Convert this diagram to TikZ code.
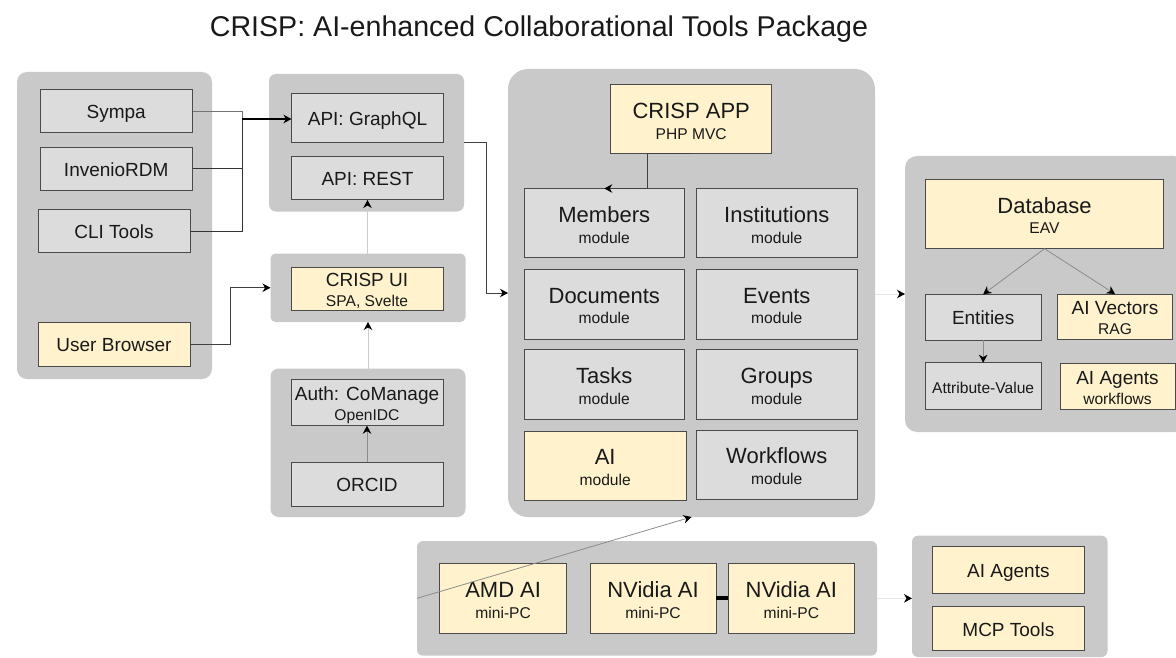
\documentclass[tikz,border=0pt]{standalone}
\usepackage{fontspec}
\setmainfont{Liberation Sans}
\usetikzlibrary{arrows.meta,calc}
\definecolor{panelgrey}{HTML}{C9C9C9}
\definecolor{boxgrey}{HTML}{DCDCDC}
\definecolor{boxyellow}{HTML}{FFF2CC}
\definecolor{edge}{HTML}{4A4A4A}
\newcommand{\bx}[7][]{%
  \pgfmathsetmacro{\bw}{#5-#3}\pgfmathsetmacro{\bh}{#6-#4}%
  \pgfmathsetmacro{\cxx}{(#3+#5)/2}\pgfmathsetmacro{\cyy}{(#4+#6)/2}%
  \node[#1,minimum width=\bw pt,minimum height=\bh pt] (#2) at (\cxx,\cyy) {#7};}
% a line of text with its baseline at a fixed offset from the node's centre
\newcommand{\tline}[3]{\makebox[0pt][c]{\raisebox{#1pt}[0pt][0pt]{\fontsize{#2}{24}\selectfont #3}}}
\newcommand{\labbig}[2]{\tline{0.7}{22}{#1}\tline{-19.9}{15.6}{#2}}
\newcommand{\labmid}[2]{\tline{2.2}{19}{#1}\tline{-17.6}{15.6}{#2}}
\newcommand{\one}[2]{\tline{-7.7}{#1}{#2}}
\tikzset{
  panel/.style={fill=panelgrey,draw=none,inner sep=0pt,outer sep=0pt},
  gbox/.style={fill=boxgrey,draw=edge,line width=1pt,inner sep=0pt,outer sep=0pt,text=black!90},
  ybox/.style={fill=boxyellow,draw=edge,line width=1pt,inner sep=0pt,outer sep=0pt,text=black!90},
  tip/.style={-{Stealth[black,inset=2.5pt,length=8pt,width=8.5pt]}},
  linkdark/.style={tip,draw=black!75,line width=1pt},
  linkmid/.style={tip,draw=black!45,line width=0.8pt},
  linklight/.style={tip,draw=black!20,line width=1pt},
  linkpale/.style={tip,draw=black!10,line width=1pt},
}
\begin{document}
\begin{tikzpicture}[x=1pt,y=-1pt]
\useasboundingbox (0,0) rectangle (1176,658);
\node[inner sep=0pt,text=black!90] (title) at (539,29.5) {\fontsize{28.6}{30}\selectfont CRISP: AI-enhanced Collaborational Tools Package};
% panels
\bx[panel,rounded corners=10pt]{pleft}{17}{72}{212}{379}{}
\bx[panel,rounded corners=7pt]{papi}{269}{74}{464}{211.5}{}
\bx[panel,rounded corners=5pt]{pui}{270.5}{253.5}{465.5}{322}{}
\bx[panel,rounded corners=8pt]{pauth}{270.5}{368.5}{465.5}{517}{}
\bx[panel,rounded corners=20pt]{pmain}{508}{69}{875}{517}{}
\bx[panel,rounded corners=12pt]{pdb}{905}{156}{1186}{432}{}
\bx[panel,rounded corners=6pt]{pai}{417}{541}{877}{655.7}{}
\bx[panel,rounded corners=6pt]{pmcp}{912}{535.7}{1107.5}{657}{}
% left column
\bx[gbox]{sympa}{40}{89.5}{192.5}{133}{\one{19}{Sympa}}
\bx[gbox]{invenio}{40}{147.5}{192.5}{190.5}{\one{19}{InvenioRDM}}
\bx[gbox]{cli}{38}{209.5}{190}{252.5}{\one{19}{CLI Tools}}
\bx[ybox]{browser}{38}{322}{190}{366}{\one{19}{User Browser}}
% api / ui / auth
\bx[gbox]{graphql}{291.5}{94}{443.5}{142.5}{\one{19}{API: GraphQL}}
\bx[gbox]{rest}{291.5}{156.5}{443.5}{200}{\one{19}{API: REST}}
\bx[ybox]{ui}{291}{267.5}{443}{310.5}{\labmid{CRISP UI}{SPA, Svelte}}
\bx[gbox]{auth}{291}{379.5}{443}{425.7}{\labmid{Auth: CoManage}{OpenIDC}}
\bx[gbox]{orcid}{291}{462}{443}{506}{\one{19}{ORCID}}
% main
\bx[ybox]{app}{610.7}{85}{771.7}{154}{\labbig{CRISP APP}{PHP MVC}}
\bx[gbox]{members}{524}{188.5}{684.5}{257.7}{\labbig{Members}{module}}
\bx[gbox]{institutions}{696.5}{188.5}{857}{257.7}{\labbig{Institutions}{module}}
\bx[gbox]{documents}{524}{269}{684.5}{339}{\labbig{Documents}{module}}
\bx[gbox]{events}{696.5}{269}{857}{339}{\labbig{Events}{module}}
\bx[gbox]{tasks}{524}{349.5}{684.5}{419}{\labbig{Tasks}{module}}
\bx[gbox]{groups}{696.5}{349.5}{857}{419}{\labbig{Groups}{module}}
\bx[ybox]{aimod}{524.4}{431}{686}{500}{\labbig{AI}{module}}
\bx[gbox]{workflows}{696}{430}{857.5}{499}{\labbig{Workflows}{module}}
% database
\bx[ybox]{database}{925.3}{179.3}{1163.7}{248.7}{\labbig{Database}{EAV}}
\bx[gbox]{entities}{925.3}{294.3}{1041}{340}{\one{19}{Entities}}
\bx[ybox]{vectors}{1057.3}{294}{1172.7}{339.3}{\labmid{AI Vectors}{RAG}}
\bx[gbox]{attr}{925.3}{362.7}{1041}{409}{\one{15.6}{Attribute-Value}}
\bx[ybox]{agentsw}{1060}{363.3}{1175}{409.7}{\labmid{AI Agents}{workflows}}
% hardware
\bx[ybox]{amd}{439.7}{563.3}{566.6}{633}{\labbig{AMD AI}{mini-PC}}
\bx[ybox]{nvone}{590}{563.3}{716}{633}{\labbig{NVidia AI}{mini-PC}}
\bx[ybox]{nvtwo}{728}{563.3}{854.6}{633}{\labbig{NVidia AI}{mini-PC}}
\bx[ybox]{agents}{932}{546.7}{1084.7}{593.3}{\one{19}{AI Agents}}
\bx[ybox]{mcp}{932}{606.3}{1084.7}{650.3}{\one{19}{MCP Tools}}
% junction coordinates
\coordinate (jleft) at (242,119);
\coordinate (jbrowser) at (230.3,0);
\coordinate (japi) at (486.5,0);
\coordinate (japp) at (647.5,0);
% connectors
\draw[draw=black!55,line width=1pt] (sympa.east) -| (jleft);
\draw[draw=black!80,line width=1pt] (invenio.east) -| (jleft);
\draw[draw=black!80,line width=1pt] (cli.east) -| (jleft);
\draw[linkdark,line width=1.5pt,draw=black] (jleft) -- (jleft -| graphql.west);
\draw[linkdark] (browser.east) -| (jbrowser |- pui.west) -- (pui.west);
\draw[linkdark] (papi.east) -| (japi |- pmain.west) -- (pmain.west);
\draw[linklight] (pui.north -| rest.south) -- (rest.south);
\draw[linklight] (pauth.north) -- (pui.south);
\draw[linkmid] (orcid.north) -- (auth.south);
\draw[linkdark] (app.south) -- (japp |- app.south) -- (japp |- members.north) -- (members.north);
\draw[linkpale] (pmain.east |- pdb.west) -- (pdb.west);
\draw[linkmid] (database.south) -- (entities.north);
\draw[linkmid] (database.south) -- (vectors.north);
\draw[linkmid] (entities.south) -- (attr.north);
\draw[linkmid] (pai.west) -- (pmain.south);
\draw[linkpale] (pai.east) -- (pai.east -| pmcp.west);
\draw[draw=black,line width=4.5pt] (nvone.east) -- (nvtwo.west);
\end{tikzpicture}
\end{document}
